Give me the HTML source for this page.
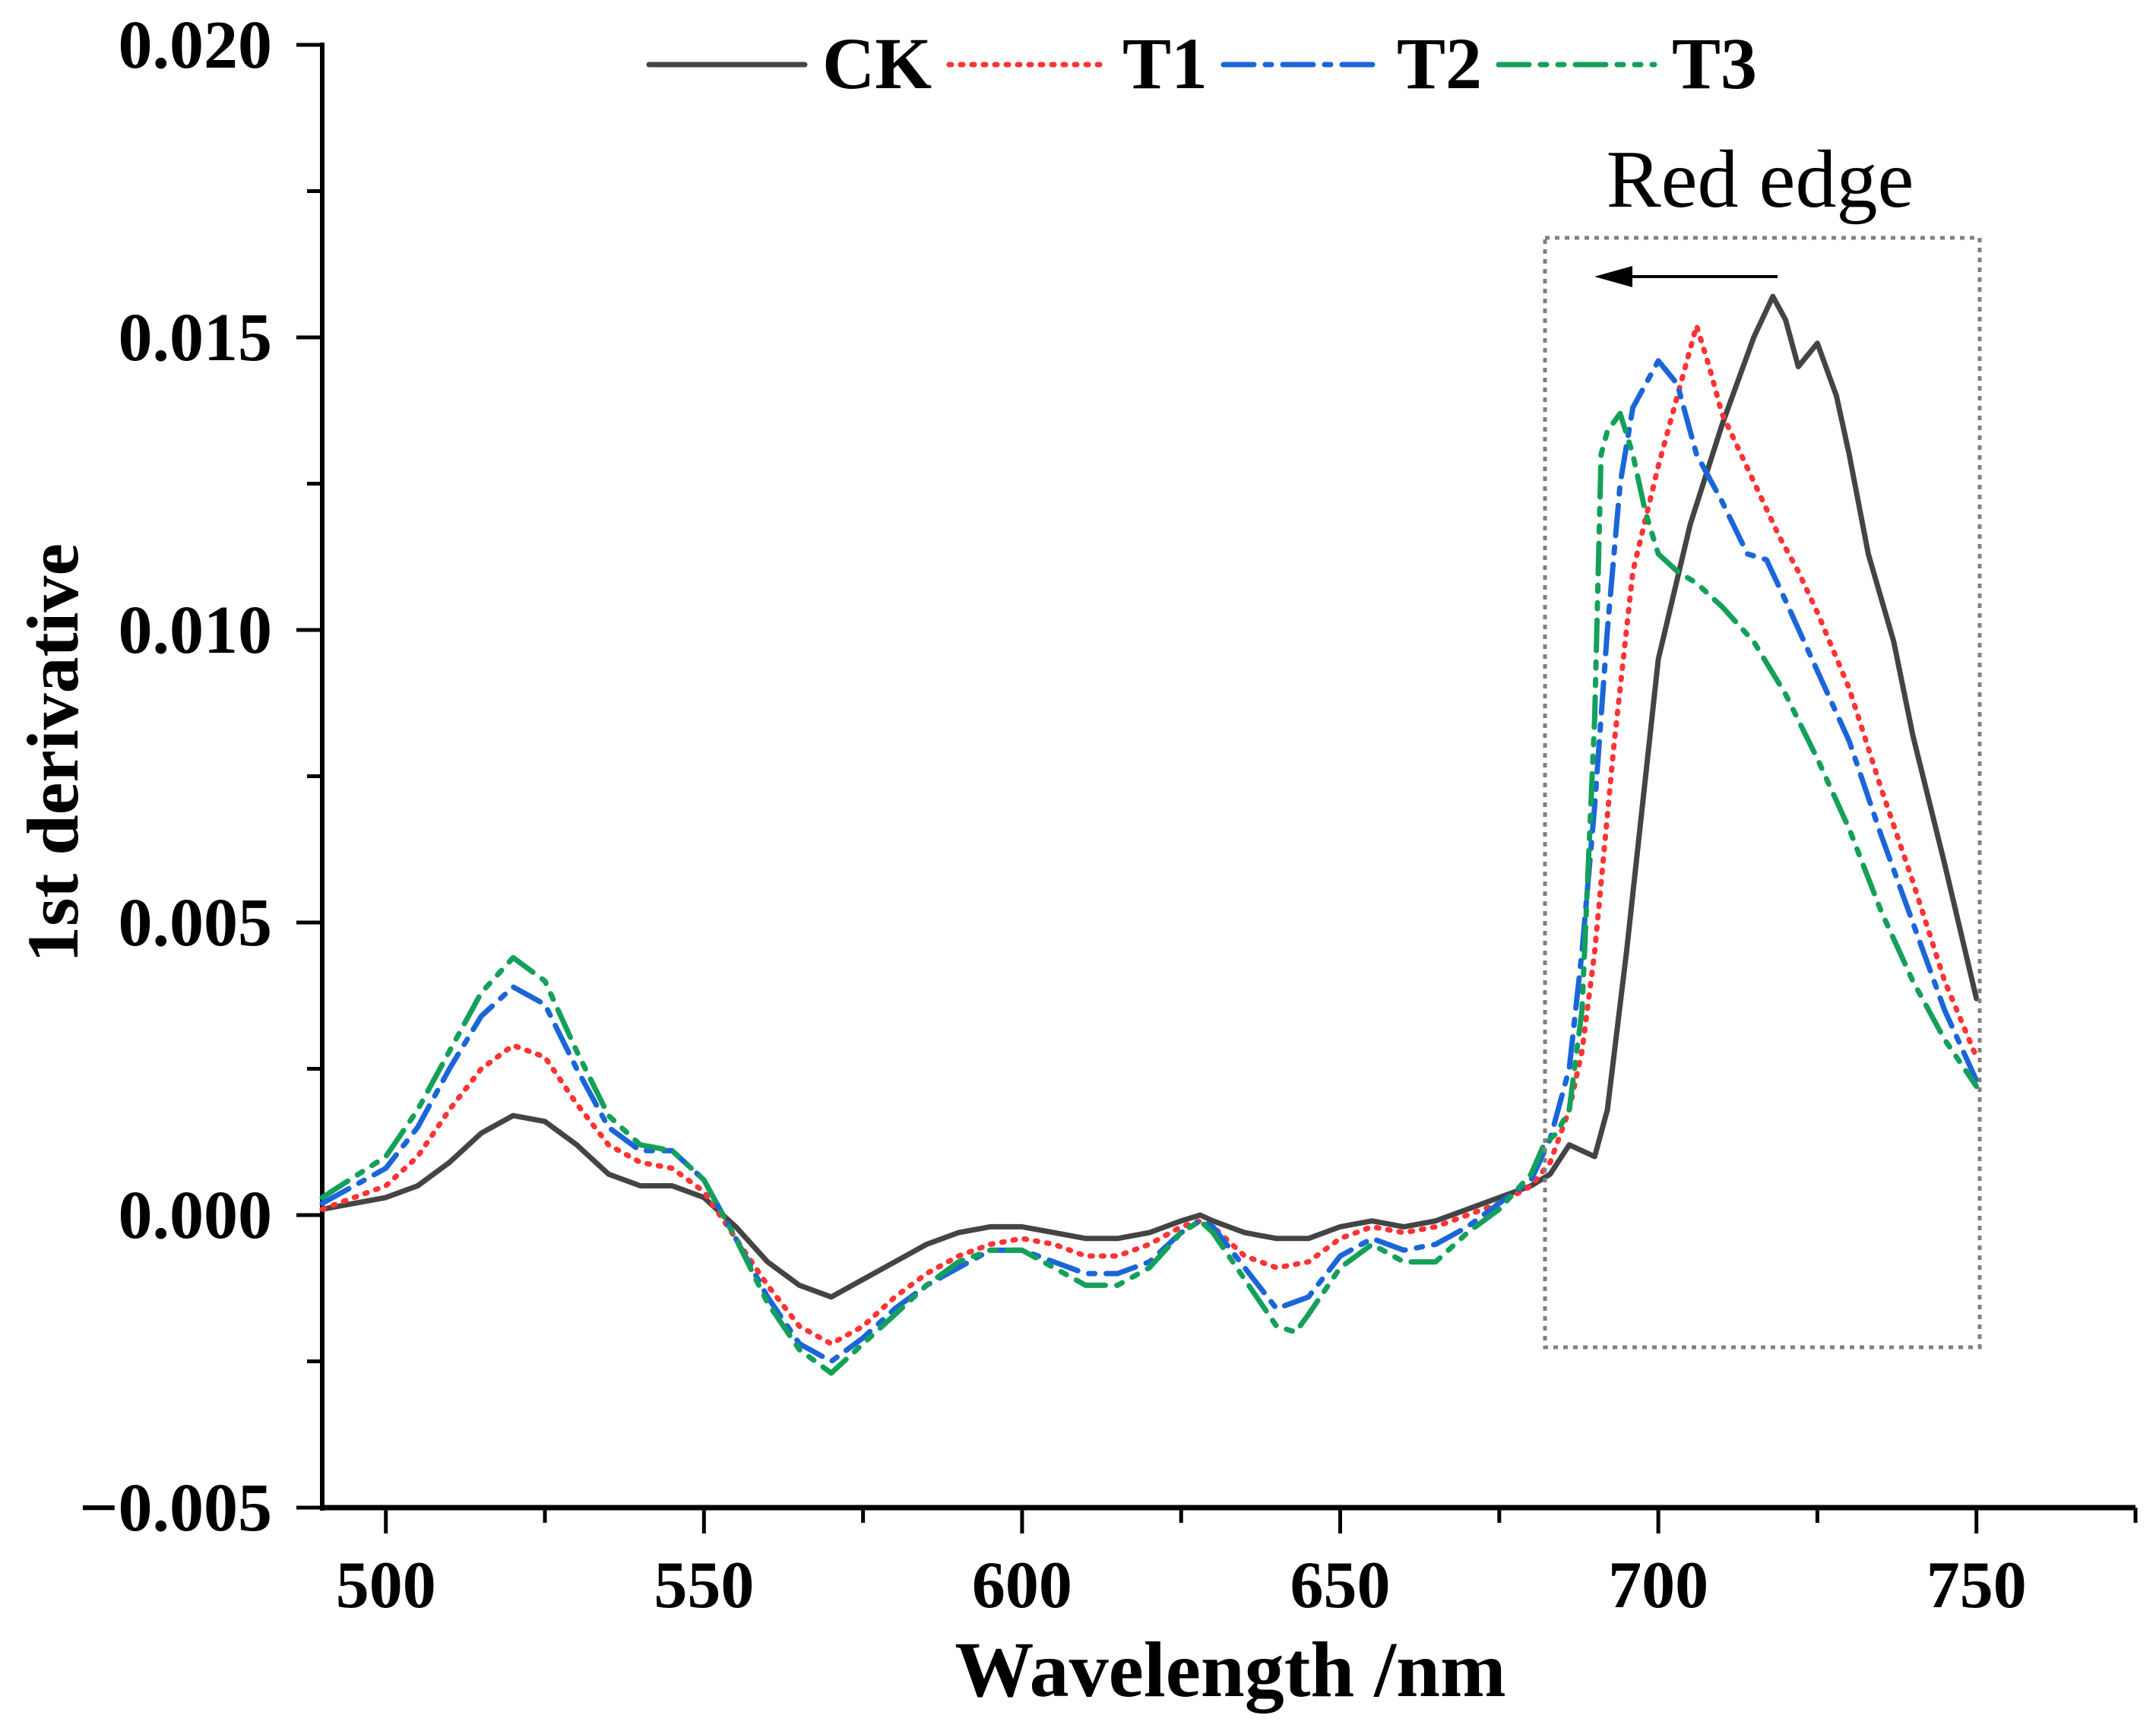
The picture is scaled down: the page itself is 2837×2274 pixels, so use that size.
<!DOCTYPE html>
<html><head><meta charset="utf-8"><style>
html,body{margin:0;padding:0;background:#fff}
svg{display:block}
text{font-family:"Liberation Serif",serif}
</style></head><body>
<svg id="chart" width="2837" height="2274" viewBox="0 0 2837 2274" xmlns="http://www.w3.org/2000/svg">
<g id="axes"></g>
<g id="series"></g>
<rect x="2033" y="313" width="572" height="1460" fill="none" stroke="#808080" stroke-width="5" stroke-dasharray="6,7"/>
<text x="2316" y="272" font-size="108" text-anchor="middle">Red edge</text>
<g>
<line x1="2339" y1="364" x2="2130" y2="364" stroke="#000" stroke-width="4"/>
<polygon points="2098,364 2148,350 2148,378" fill="#000"/>
</g>
<text transform="translate(102,991) rotate(-90)" font-size="96" font-weight="bold" text-anchor="middle">1st derivative</text>
<text x="1619" y="2232" font-size="104" font-weight="bold" text-anchor="middle">Wavelength /nm</text>
<g id="legend"></g>
</svg>
<script>
const xTicks=[500,550,600,650,700,750];
const yTicks=[-0.005,0,0.005,0.010,0.015,0.020];
const yTickLabels=["\u22120.005","0.000","0.005","0.010","0.015","0.020"];
const ckX=[490,500,505,510,515,520,525,530,535,540,545,550,555,560,565,570,575,580,585,590,595,600,605,610,615,620,625,628,630,635,640,645,650,655,660,665,670,675,680,683,686,688,690,692,695,698,700,705,710,715,718,720,722,725,728,730,733,737,740,745,750];
const ckY=[0.0001,0.0003,0.0005,0.0009,0.0014,0.0017,0.0016,0.0012,0.0007,0.0005,0.0005,0.0003,-0.0002,-0.0008,-0.0012,-0.0014,-0.0011,-0.0008,-0.0005,-0.0003,-0.0002,-0.0002,-0.0003,-0.0004,-0.0004,-0.0003,-0.0001,0,-0.0001,-0.0003,-0.0004,-0.0004,-0.0002,-0.0001,-0.0002,-0.0001,0.0001,0.0003,0.0005,0.0007,0.0012,0.0011,0.001,0.0018,0.0045,0.0075,0.0095,0.0118,0.0135,0.015,0.0157,0.0153,0.0145,0.0149,0.014,0.013,0.0113,0.0098,0.0082,0.006,0.0037];
const t1X=[490,500,505,510,515,520,525,530,535,540,545,550,555,560,565,570,575,580,585,590,595,600,605,610,615,620,625,628,630,635,640,645,650,655,660,665,670,675,680,683,686,688,690,693,696,700,703,706,708,710,713,716,719,722,725,730,735,740,745,750];
const t1Y=[0.0001,0.0005,0.001,0.0018,0.0025,0.0029,0.0027,0.0019,0.0012,0.0009,0.0008,0.0004,-0.0004,-0.0012,-0.0019,-0.0022,-0.0019,-0.0014,-0.001,-0.0007,-0.0005,-0.0004,-0.0005,-0.0007,-0.0007,-0.0005,-0.0002,-0.0001,-0.0002,-0.0007,-0.0009,-0.0008,-0.0004,-0.0002,-0.0003,-0.0002,0,0.0002,0.0005,0.0009,0.0018,0.0028,0.0045,0.008,0.011,0.0128,0.014,0.0152,0.0145,0.0137,0.013,0.0123,0.0116,0.011,0.0103,0.009,0.0073,0.0057,0.004,0.0027];
const t2X=[490,500,505,510,515,520,525,530,535,540,545,550,555,560,565,570,575,580,585,590,595,600,605,610,615,620,625,628,630,635,640,645,650,655,660,665,670,675,680,683,686,688,690,692,694,696,698,700,703,706,710,714,717,720,725,730,735,740,745,750];
const t2Y=[0.0002,0.0008,0.0015,0.0025,0.0034,0.0039,0.0036,0.0025,0.0015,0.0011,0.0011,0.0006,-0.0004,-0.0014,-0.0022,-0.0025,-0.0021,-0.0016,-0.0012,-0.0009,-0.0006,-0.0006,-0.0008,-0.001,-0.001,-0.0008,-0.0003,-0.0001,-0.0002,-0.0009,-0.0016,-0.0014,-0.0007,-0.0004,-0.0006,-0.0005,-0.0002,0.0002,0.0006,0.0013,0.0025,0.0045,0.007,0.01,0.0125,0.0138,0.0142,0.0146,0.0142,0.013,0.0122,0.0113,0.0112,0.0105,0.0093,0.0081,0.0065,0.005,0.0035,0.0023];
const t3X=[490,500,505,510,515,520,525,530,535,540,545,550,555,560,565,570,575,580,585,590,595,600,605,610,615,620,625,628,630,635,640,643,645,650,655,660,665,670,675,680,682,684,686,688,690,691,692,694,696,698,700,703,706,710,715,720,725,730,735,740,745,750];
const t3Y=[0.0003,0.001,0.0018,0.0028,0.0038,0.0044,0.004,0.0028,0.0017,0.0012,0.0011,0.0006,-0.0004,-0.0015,-0.0023,-0.0027,-0.0022,-0.0017,-0.0012,-0.0008,-0.0006,-0.0006,-0.0009,-0.0012,-0.0012,-0.0009,-0.0003,-0.0001,-0.0003,-0.0011,-0.0019,-0.002,-0.0017,-0.0009,-0.0005,-0.0008,-0.0008,-0.0003,0.0001,0.0007,0.0012,0.0014,0.0018,0.0035,0.0085,0.013,0.0134,0.0137,0.013,0.012,0.0113,0.011,0.0108,0.0104,0.0098,0.0089,0.0078,0.0066,0.0052,0.004,0.003,0.0022];

const NS="http://www.w3.org/2000/svg";
const X0=424,PXNM=8.372,Y0=1599,PXU=385/0.005;
function sx(v){return X0+(v-490)*PXNM;}
function sy(v){return Y0-v*PXU;}
function mk(tag,attrs,parent){const e=document.createElementNS(NS,tag);for(const k in attrs)e.setAttribute(k,attrs[k]);parent.appendChild(e);return e;}
const axes=document.getElementById('axes');
let yax=mk('line',{x1:X0,y1:sy(0.020)-3,x2:X0,y2:sy(-0.005)+4,stroke:'#000','stroke-width':6},axes);


let xax=mk('line',{x1:X0-3,y1:sy(-0.005),x2:sx(775),y2:sy(-0.005),stroke:'#000','stroke-width':7},axes);


for(let v=500;v<=775;v+=25){
  const major=(v%50===0);
  const t=mk('line',{x1:sx(v),y1:sy(-0.005),x2:sx(v),y2:sy(-0.005)+(major?34:20),stroke:'#000','stroke-width':5},axes);
  
  
}
xTicks.forEach(v=>{
  const t=mk('text',{x:sx(v),y:2115,'font-size':88,'font-weight':'bold','text-anchor':'middle'},axes);
  t.textContent=String(v);
  
  
});
for(let i=0;i<=10;i++){
  const v=-0.005+i*0.0025;
  const major=(i%2===0);
  const t=mk('line',{x1:X0,y1:sy(v),x2:X0-(major?34:20),y2:sy(v),stroke:'#000','stroke-width':5},axes);
  
  
}
yTicks.forEach((v,i)=>{
  const t=mk('text',{x:358,y:sy(v)+30,'font-size':90,'font-weight':'bold','text-anchor':'end'},axes);
  t.textContent=yTickLabels[i];
  
  
});
const styles=[
 {name:'CK',xs:ckX,ys:ckY,color:'#444444',dash:'',w:7},
 {name:'T1',xs:t1X,ys:t1Y,color:'#ff3333',dash:'3,12',w:7},
 {name:'T2',xs:t2X,ys:t2Y,color:'#1a66d9',dash:'40,15,8,15',w:7},
 {name:'T3',xs:t3X,ys:t3Y,color:'#14a05a',dash:'40,15,8,15,8,15',w:7}
];
const sg=document.getElementById('series');
styles.forEach(s=>{
  let d='';
  s.xs.forEach((x,i)=>{d+=(i?'L':'M')+sx(x).toFixed(1)+','+sy(s.ys[i]).toFixed(1);});
  const p=mk('path',{d:d,fill:'none',stroke:s.color,'stroke-width':s.w,'stroke-dasharray':s.dash,'stroke-linecap':'round','stroke-linejoin':'round'},sg);
  
  
});
const lg=document.getElementById('legend');
const lx=[854,1249,1610,1972];
styles.forEach((s,i)=>{
  const g=mk('g',{},lg);
  
  
  mk('line',{x1:lx[i],y1:85,x2:lx[i]+205,y2:85,stroke:s.color,'stroke-width':s.w,'stroke-dasharray':s.dash,'stroke-linecap':'round'},g);
  const t=mk('text',{x:lx[i]+228,y:116,'font-size':96,'font-weight':'bold'},g);
  t.textContent=s.name;
});
</script>
</body></html>
